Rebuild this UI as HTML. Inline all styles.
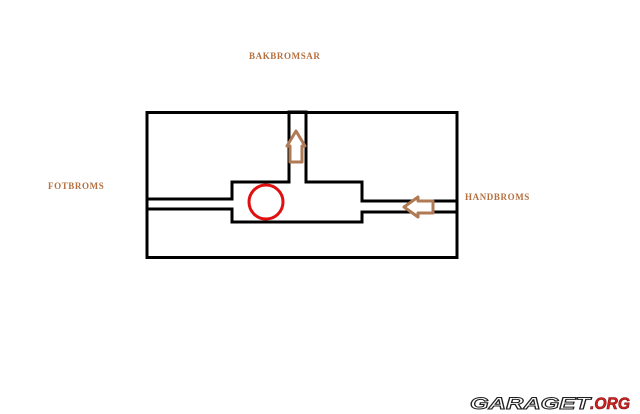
<!DOCTYPE html>
<html><head><style>
html,body{margin:0;padding:0;background:#fff;}
body{width:640px;height:414px;overflow:hidden;position:relative;}
.l{position:absolute;font-family:"Liberation Serif",serif;font-weight:bold;font-size:9px;color:#b5703f;letter-spacing:0.6px;}
</style></head><body>
<div class="l" style="left:249px;top:51px;">BAKBROMSAR</div>
<div class="l" style="left:48px;top:181px;">FOTBROMS</div>
<div class="l" style="left:465px;top:192px;">HANDBROMS</div>
<svg width="640" height="414" style="position:absolute;left:0;top:0">
<rect x="147" y="112.5" width="310" height="145" fill="#fff" stroke="#000" stroke-width="3"/>
<polygon points="147,199 232,199 232,182 289,182 289,112 306,112 306,182 362,182 362,201 457,201 457,212 362,212 362,222 232,222 232,209 147,209" fill="#fff" stroke="#000" stroke-width="3"/>
<rect x="147" y="112.5" width="310" height="145" fill="none" stroke="#000" stroke-width="3"/>
<circle cx="266" cy="202" r="17" fill="none" stroke="#e01010" stroke-width="3"/>
<polygon points="296,131 305,146 302,146 302,162 290,162 290,146 287,146" fill="#fff" stroke="#b07a55" stroke-width="3" stroke-linejoin="round"/>
<polygon points="404,207 418,197 418,201 433,201 433,213 418,213 418,217" fill="#fff" stroke="#b07a55" stroke-width="3" stroke-linejoin="round"/>
<text x="470" y="409" font-family="Liberation Sans,sans-serif" font-size="17" font-weight="bold" font-style="italic" fill="#fff" stroke="#222" stroke-width="1" textLength="120" lengthAdjust="spacingAndGlyphs">GARAGET</text>
<text x="590" y="409" font-family="Liberation Sans,sans-serif" font-size="17" font-weight="bold" font-style="italic" fill="#d02020" stroke="#801010" stroke-width="0.6" textLength="40" lengthAdjust="spacingAndGlyphs">.ORG</text>
</svg>
</body></html>
